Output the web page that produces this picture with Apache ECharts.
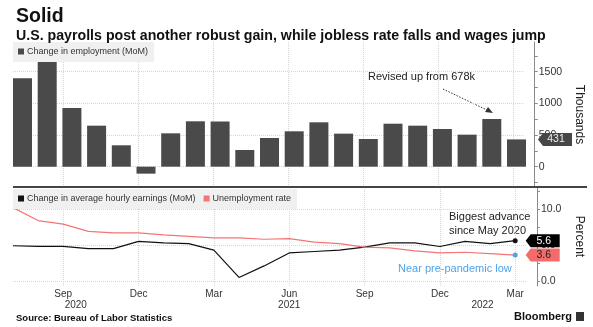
<!DOCTYPE html>
<html><head><meta charset="utf-8">
<script src="https://cdn.jsdelivr.net/npm/echarts@6/dist/echarts.min.js"></script>
<style>html,body{margin:0;padding:0;background:#fff}#c{width:593px;height:327px}</style>
</head><body><div id="c"></div>
<script>
// ---- data ----
const months = ['Jul 2020','Aug 2020','Sep 2020','Oct 2020','Nov 2020','Dec 2020','Jan 2021','Feb 2021','Mar 2021','Apr 2021','May 2021','Jun 2021','Jul 2021','Aug 2021','Sep 2021','Oct 2021','Nov 2021','Dec 2021','Jan 2022','Feb 2022','Mar 2022'];
const payrolls = [1396,1675,927,648,338,-110,527,717,714,264,453,559,701,522,437,679,648,595,506,753,431];
const earnings = [4.9,4.8,4.8,4.5,4.5,5.5,5.3,5.2,4.3,0.5,2.1,3.9,4.1,4.3,4.7,5.3,5.3,4.8,5.5,5.2,5.6];
const unemployment = [10.2,8.4,7.9,6.9,6.7,6.7,6.4,6.2,6.0,6.0,5.8,5.9,5.4,5.2,4.7,4.6,4.2,3.9,4.0,3.8,3.6];
const xTickMonths = ['Sep 2020','Dec 2020','Mar 2021','Jun 2021','Sep 2021','Dec 2021','Mar 2022'];
const yearLabels = ['2020','2021','2022'];
const payrollTicks = [0,500,1000,1500];
const percentTicks = [0,5,10];

// ---- layout / style ----
const FONT = '"Liberation Sans", Arial, sans-serif';
const xMax = 20.43;
const yearPos = [2.5, 11, 18.7];
const last = months.length - 1;
const tickIdx = xTickMonths.map(m => months.indexOf(m));
const grid = 'dotted';
const gridColor = '#d6d6d6';
const axisColor = '#8a8a8a';

const chart = echarts.init(document.getElementById('c'));
const tag = (color, textColor, off) => ({
  symbol: 'path://M0,6.5L5,0L34,0L34,13L5,13Z',
  symbolSize: [34, 13], symbolOffset: [off, 0], symbolKeepAspect: false,
  silent: true, animation: false,
  itemStyle: { color: color },
  label: { show: true, color: textColor, fontSize: 10.5, fontFamily: FONT, formatter: '{c}', offset: [1, 0] }
});

chart.setOption({
  animation: false,
  textStyle: { fontFamily: FONT },
  title: [
    { text: 'Solid', left: 11, top: 2, textStyle: { fontSize: 19.5, fontWeight: 'bold', color: '#111', fontFamily: FONT } },
    { text: 'U.S. payrolls post another robust gain, while jobless rate falls and wages jump', left: 11, top: 24,
      textStyle: { fontSize: 14.2, fontWeight: 'bold', color: '#111', fontFamily: FONT } }
  ],
  legend: [
    { data: ['Change in employment (MoM)'], left: 13, top: 42, icon: 'rect', itemWidth: 6, itemHeight: 6,
      backgroundColor: '#f0f0f0', padding: [5, 6, 6, 5], itemGap: 8, selectedMode: false,
      textStyle: { fontSize: 9, color: '#333', fontFamily: FONT, padding: [0, 0, 0, -2] } },
    { data: ['Change in average hourly earnings (MoM)', 'Unemployment rate'], left: 13, top: 189, icon: 'rect', itemWidth: 6, itemHeight: 6,
      backgroundColor: '#f0f0f0', padding: [5, 6, 6, 5], itemGap: 8, selectedMode: false,
      textStyle: { fontSize: 9, color: '#333', fontFamily: FONT, padding: [0, 0, 0, -2] } }
  ],
  grid: [
    { left: 22.5, right: 76.5, top: 42, bottom: 140 },
    { left: 13, right: 55, top: 42, bottom: 140 },
    { left: 13, right: 55, top: 187, bottom: 41 }
  ],
  xAxis: [
    { gridIndex: 0, type: 'category', data: months, boundaryGap: false, show: false },
    { gridIndex: 1, type: 'value', min: 0, max: xMax, axisLine: { show: false, onZero: false },
      axisTick: { show: false, customValues: tickIdx }, axisLabel: { show: false },
      splitLine: { show: true, lineStyle: { color: gridColor, type: grid } } },
    { gridIndex: 2, type: 'value', min: 0, max: xMax, axisLine: { show: false, onZero: false },
      axisTick: { show: false, customValues: tickIdx },
      axisLabel: { show: true, customValues: tickIdx, formatter: v => months[Math.round(v)].split(' ')[0], fontSize: 10, color: '#333', margin: 3 },
      splitLine: { show: true, lineStyle: { color: gridColor, type: grid } } },
    { gridIndex: 2, type: 'value', min: 0, max: xMax, position: 'bottom', offset: 11, axisLine: { show: false, onZero: false },
      axisTick: { show: false, customValues: yearPos },
      axisLabel: { show: true, customValues: yearPos, formatter: v => yearLabels[yearPos.indexOf(v)], fontSize: 10, color: '#333', margin: 3 },
      splitLine: { show: false } }
  ],
  yAxis: [
    { gridIndex: 0, type: 'value', min: -321, max: 1970, show: false },
    { gridIndex: 1, type: 'value', position: 'right', offset: 11, min: -321, max: 1970, splitNumber: 5,
      axisLine: { show: true, onZero: false, lineStyle: { color: axisColor } },
      axisTick: { show: true, length: 3, customValues: payrollTicks, lineStyle: { color: axisColor } },
      minorTick: { show: true, splitNumber: 2, length: 3, lineStyle: { color: axisColor } },
      axisLabel: { customValues: payrollTicks, formatter: v => String(v), fontSize: 10.5, color: '#333', margin: 4 },
      splitLine: { show: true, lineStyle: { color: gridColor, type: grid } },
      minorSplitLine: { show: false },
      name: 'Thousands', nameLocation: 'middle', nameRotate: -90, nameGap: 36,
      nameTextStyle: { fontSize: 12, color: '#222' } },
    { gridIndex: 2, type: 'value', position: 'right', offset: 11, min: -0.69, max: 13.06, splitNumber: 3,
      axisLine: { show: true, onZero: false, lineStyle: { color: axisColor } },
      axisTick: { show: true, length: 3, customValues: percentTicks, lineStyle: { color: axisColor } },
      minorTick: { show: true, splitNumber: 2, length: 3, lineStyle: { color: axisColor } },
      axisLabel: { customValues: percentTicks, formatter: v => v.toFixed(1), fontSize: 10.5, color: '#333', margin: 4 },
      splitLine: { show: true, lineStyle: { color: gridColor, type: grid } },
      name: 'Percent', nameLocation: 'middle', nameRotate: -90, nameGap: 36,
      nameTextStyle: { fontSize: 12, color: '#222' } }
  ],
  series: [
    { name: 'Change in employment (MoM)', type: 'bar', xAxisIndex: 0, yAxisIndex: 0, data: payrolls,
      barWidth: 19, clip: false, itemStyle: { color: '#4a4a4a' },
      markPoint: Object.assign(tag('#474747', '#eeeeee', 38.5), { data: [{ coord: [months[last], payrolls[last]], value: payrolls[last] }] }) },
    { name: 'Change in average hourly earnings (MoM)', type: 'line', xAxisIndex: 2, yAxisIndex: 2,
      data: earnings.map((v, i) => i === last ? { value: [i, v], symbol: 'circle', symbolSize: 5 } : [i, v]),
      symbol: 'none', color: '#111', lineStyle: { width: 1.2, color: '#111' }, itemStyle: { color: '#111' },
      markPoint: Object.assign(tag('#000000', '#ffffff', 27.5), { data: [{ coord: [last, earnings[last]], value: earnings[last] }] }) },
    { name: 'Unemployment rate', type: 'line', xAxisIndex: 2, yAxisIndex: 2,
      data: unemployment.map((v, i) => i === last ? { value: [i, v], symbol: 'circle', symbolSize: 5, itemStyle: { color: '#4da3ee' } } : [i, v]),
      symbol: 'none', color: '#f47575', lineStyle: { width: 1.2, color: '#f47575' }, itemStyle: { color: '#f47575' },
      markPoint: Object.assign(tag('#f46b6b', '#222222', 27.5), { data: [{ coord: [last, unemployment[last]], value: unemployment[last] }] }) }
  ],
  graphic: [
    { type: 'rect', shape: { x: 13, y: 186, width: 574, height: 2 }, style: { fill: '#444' }, z: 10 },
    { type: 'text', left: 368, top: 71, style: { text: 'Revised up from 678k', fill: '#222', font: '11px ' + FONT } },
    { type: 'line', shape: { x1: 443, y1: 89, x2: 489, y2: 111 }, style: { stroke: '#333', lineWidth: 1, lineDash: [1.5, 1.5] } },
    { type: 'polygon', shape: { points: [[493, 113], [485, 112], [488, 107]] }, style: { fill: '#333' } },
    { type: 'text', left: 449, top: 210, style: { text: 'Biggest advance\nsince May 2020', font: '11px ' + FONT, fill: '#222', lineHeight: 14 } },
    { type: 'text', left: 398, top: 263, style: { text: 'Near pre-pandemic low', font: '11px ' + FONT, fill: '#4da3ee' } },
    { type: 'text', left: 16, top: 313, style: { text: 'Source: Bureau of Labor Statistics', font: 'bold 9.5px ' + FONT, fill: '#111' } },
    { type: 'text', left: 514, top: 311, style: { text: 'Bloomberg', font: 'bold 11px ' + FONT, fill: '#111' } },
    { type: 'rect', shape: { x: 576, y: 312, width: 8, height: 9 }, style: { fill: '#333' } }
  ]
});
</script></body></html>
